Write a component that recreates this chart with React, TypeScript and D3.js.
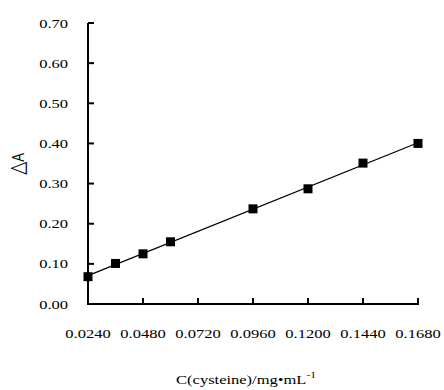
import React from 'react';
import * as d3 from 'd3';

// cysteine concentration (mg/mL) and absorbance change
const concentrations = [0.024, 0.036, 0.048, 0.06, 0.096, 0.12, 0.144, 0.168];
const deltaA = [0.068, 0.101, 0.125, 0.155, 0.237, 0.287, 0.351, 0.4];

const xTicks = [0.024, 0.048, 0.072, 0.096, 0.12, 0.144, 0.168];
const yTicks = [0, 0.1, 0.2, 0.3, 0.4, 0.5, 0.6, 0.7];

const width = 444;
const height = 390;
const margin = { top: 23, right: 26, bottom: 86, left: 88 };
const font = '"Liberation Serif", "Times New Roman", serif';
const stretch = 'scale(1.27,1)';

// least squares line through the points
const fitLine = (xs: number[], ys: number[]) => {
  const mx = d3.mean(xs) as number;
  const my = d3.mean(ys) as number;
  const sxy = d3.sum(xs, (x, i) => (x - mx) * (ys[i] - my));
  const sxx = d3.sum(xs, x => (x - mx) * (x - mx));
  const slope = sxy / sxx;
  return { slope, intercept: my - slope * mx };
};

const App = () => {
  const innerW = width - margin.left - margin.right;
  const innerH = height - margin.top - margin.bottom;

  const x = d3.scaleLinear().domain([0.024, 0.168]).range([margin.left, margin.left + innerW]);
  const y = d3.scaleLinear().domain([0, 0.7]).range([margin.top + innerH, margin.top]);

  const { slope, intercept } = fitLine(concentrations, deltaA);
  const [x0, x1] = x.domain();
  const trend = d3.line<number>()
    .x(d => x(d))
    .y(d => y(slope * d + intercept))([x0, x1]);

  const bottom = y(0);
  const size = 9;

  return (
    <svg width={width} height={height}
      style={{ position: 'absolute', left: 0, top: 0, background: '#fff' }}
      fontFamily={font}>
      {/* trend line */}
      <path d={trend || ''} fill="none" stroke="#000" strokeWidth={1.3} />

      {/* markers */}
      {concentrations.map((c, i) => (
        <rect key={i} x={x(c) - size / 2} y={y(deltaA[i]) - size / 2}
          width={size} height={size} fill="#000" />
      ))}

      {/* y axis */}
      <line x1={x(0.024)} x2={x(0.024)} y1={bottom + 1} y2={y(0.7)} stroke="#000" strokeWidth={2} />
      {yTicks.map(t => (
        <g key={t}>
          <line x1={x(0.024)} x2={x(0.024) + 6} y1={y(t)} y2={y(t)} stroke="#000" strokeWidth={2} />
          <g transform={`translate(${x(0.024) - 20},${y(t) + 4.5}) ${stretch}`}>
            <text textAnchor="end" fontSize={13} fill="#000">{t.toFixed(2)}</text>
          </g>
        </g>
      ))}

      {/* x axis */}
      <line x1={x(0.024) - 1} x2={x(0.168) + 1} y1={bottom} y2={bottom} stroke="#000" strokeWidth={2} />
      {xTicks.map(t => (
        <g key={t}>
          <line x1={x(t)} x2={x(t)} y1={bottom} y2={bottom - 6} stroke="#000" strokeWidth={2} />
          <g transform={`translate(${x(t)},${bottom + 34}) ${stretch}`}>
            <text textAnchor="middle" fontSize={13} fill="#000">{t.toFixed(4)}</text>
          </g>
        </g>
      ))}

      {/* axis titles */}
      <g transform={`translate(246,384) ${stretch}`}>
        <text textAnchor="middle" fontSize={13} fill="#000">
          C(cysteine)/mg•mL<tspan fontSize={9} dy={-6}>-1</tspan>
        </text>
      </g>
      <g transform={`translate(24,164) rotate(-90) scale(1,1.27)`}>
        <text textAnchor="middle" fontSize={13} fill="#000" fontFamily='"Liberation Sans", Arial, sans-serif'>
          <tspan fontFamily="DejaVu Sans" fontSize={17}>△</tspan>A
        </text>
      </g>
    </svg>
  );
};

export default App;
